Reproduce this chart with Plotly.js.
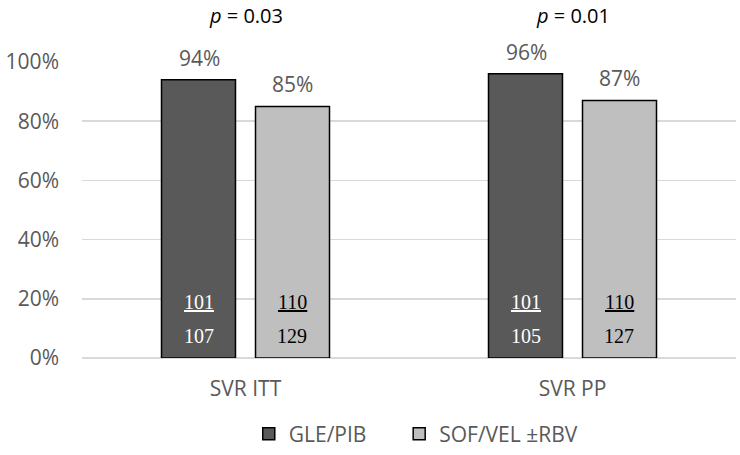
<!DOCTYPE html>
<html>
<head>
<meta charset="utf-8">
<script src="https://cdn.plot.ly/plotly-3.0.1.min.js"></script>
<style>html,body{margin:0;padding:0;background:#fff}#chart{width:740px;height:455px}</style>
</head>
<body>
<div id="chart"></div>
<script>
const categories = ["SVR ITT", "SVR PP"];
const seriesNames = ["GLE/PIB", "SOF/VEL ±RBV"];
const glePibRate = [0.94, 0.96];
const sofVelRate = [0.85, 0.87];
const glePibResponders = [101, 101];
const glePibTotal = [107, 105];
const sofVelResponders = [110, 110];
const sofVelTotal = [129, 127];
const pValues = ["0.03", "0.01"];
const yTickVals = [0, 0.2, 0.4, 0.6, 0.8, 1.0];
const yTickText = ["0%", "20%", "40%", "60%", "80%", "100%"];

const sansFont = "Open Sans, sans-serif";
const serifFont = "Liberation Serif, Times New Roman, serif";
const gray = "#595959";

const traces = [
  {type: "bar", name: seriesNames[0], x: categories, y: glePibRate, legend: "legend",
   marker: {color: "#595959", line: {color: "#000", width: 1.5}}, hoverinfo: "none"},
  {type: "bar", name: seriesNames[1], x: categories, y: sofVelRate, legend: "legend2",
   marker: {color: "#bfbfbf", line: {color: "#000", width: 1.5}}, hoverinfo: "none"}
];

const offset = 46.5;
const annotations = [];
categories.forEach((c, i) => {
  const groups = [
    {rate: glePibRate[i], num: glePibResponders[i], den: glePibTotal[i], shift: -offset, color: "#ffffff"},
    {rate: sofVelRate[i], num: sofVelResponders[i], den: sofVelTotal[i], shift: offset, color: "#000000"}
  ];
  groups.forEach(g => {
    annotations.push({x: c, y: g.rate, xref: "x", yref: "y", xshift: g.shift, yshift: 22,
      text: Math.round(g.rate * 100) + "%", showarrow: false, yanchor: "middle",
      font: {family: sansFont, size: 21, color: gray}});
    annotations.push({x: c, y: 0, xref: "x", yref: "y", xshift: g.shift, yshift: 56,
      text: "<u>" + g.num + "</u>", showarrow: false, yanchor: "middle",
      font: {family: serifFont, size: 20, color: g.color}});
    annotations.push({x: c, y: 0, xref: "x", yref: "y", xshift: g.shift, yshift: 22,
      text: String(g.den), showarrow: false, yanchor: "middle",
      font: {family: serifFont, size: 20, color: g.color}});
  });
  annotations.push({x: c, y: 1, xref: "x", yref: "paper", yshift: 47,
    text: "<i>p</i> = " + pValues[i], showarrow: false, yanchor: "middle",
    font: {family: sansFont, size: 20, color: "#000"}});
});

const legendBase = {orientation: "h", xref: "paper", xanchor: "left", yref: "container",
  y: 0.046, yanchor: "middle", font: {family: sansFont, size: 21, color: gray}};

const layout = {
  width: 740, height: 455,
  margin: {l: 82, r: 4, t: 62, b: 97, autoexpand: false},
  paper_bgcolor: "#fff", plot_bgcolor: "#fff",
  barmode: "group", bargap: 0.425, bargroupgap: 0.213,
  showlegend: true,
  legend: Object.assign({}, legendBase, {x: 0.255}),
  legend2: Object.assign({}, legendBase, {x: 0.485}),
  xaxis: {type: "category", showgrid: false, zeroline: false, showline: false, ticks: "",
    ticklabelstandoff: 16, tickfont: {family: sansFont, size: 21, color: gray}},
  yaxis: {range: [0, 1], tickvals: yTickVals, ticktext: yTickText, showgrid: true,
    gridcolor: "#d9d9d9", gridwidth: 1.5, zeroline: true, zerolinecolor: "#d9d9d9", zerolinewidth: 1.5,
    showline: false, ticks: "", ticklabelstandoff: 22,
    tickfont: {family: sansFont, size: 21, color: gray}},
  annotations: annotations
};

Plotly.newPlot("chart", traces, layout, {displayModeBar: false, staticPlot: true});
</script>
</body>
</html>
